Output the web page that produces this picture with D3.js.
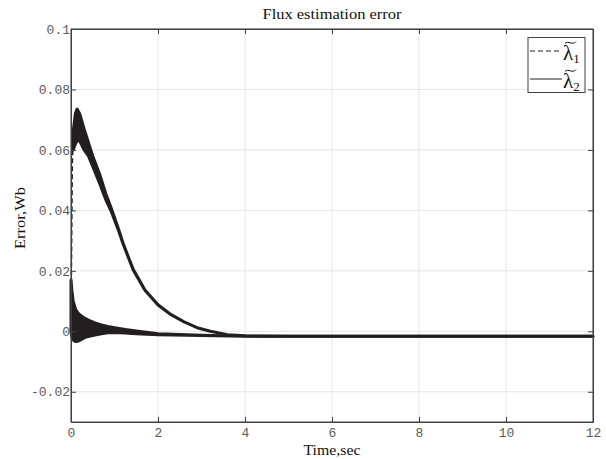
<!DOCTYPE html>
<html>
<head>
<meta charset="utf-8">
<script src="https://cdn.jsdelivr.net/npm/d3@7"></script>
<style>
  html, body { margin: 0; padding: 0; background: #ffffff; }
  svg { display: block; }
</style>
</head>
<body>
<svg id="chart" width="606" height="459"></svg>
<script>
// ---------- data ----------
const chartTitle = "Flux estimation error";
const xLabel = "Time,sec";
const yLabel = "Error,Wb";
const xTicks = [0, 2, 4, 6, 8, 10, 12];
const xTickLabels = ["0", "2", "4", "6", "8", "10", "12"];
const yTicks = [-0.02, 0, 0.02, 0.04, 0.06, 0.08, 0.1];
const yTickLabels = ["-0.02", "0", "0.02", "0.04", "0.06", "0.08", "0.1"];
const seriesNames = ["1", "2"];

// lambda~1 : initial (dashed) rise
const lambda1RiseTime  = [0, 0.01, 0.03, 0.05];
const lambda1RiseValue = [0, 0.02, 0.055, 0.064];
// lambda~1 : oscillating band (upper / lower envelope)
const lambda1Time  = [0.05, 0.1, 0.14, 0.2, 0.3, 0.4, 0.5, 0.67, 0.8, 0.93, 1.1, 1.2, 1.43, 1.7, 2.0, 2.3, 2.6, 2.9, 3.2, 3.6, 4.0, 5.0, 6.0, 8.0, 10.0, 12.0];
const lambda1Upper = [0.066, 0.072, 0.0735, 0.072, 0.067, 0.0625, 0.058, 0.0515, 0.0455, 0.0405, 0.0335, 0.029, 0.0205, 0.0137, 0.0088, 0.0055, 0.0031, 0.0012, 0.0, -0.0011, -0.0015, -0.0016, -0.0016, -0.0016, -0.0016, -0.0016];
const lambda1Lower = [0.060, 0.062, 0.063, 0.063, 0.060, 0.058, 0.0545, 0.0485, 0.0435, 0.0395, 0.0330, 0.0288, 0.0203, 0.0136, 0.0087, 0.0055, 0.0031, 0.0012, 0.0, -0.0011, -0.0015, -0.0016, -0.0016, -0.0016, -0.0016, -0.0016];

// lambda~2 : oscillating band (upper / lower envelope)
const lambda2Time  = [0, 0.02, 0.05, 0.1, 0.15, 0.2, 0.3, 0.4, 0.55, 0.7, 0.85, 1.0, 1.25, 1.5, 2.0, 3.0, 4.0, 6.0, 8.0, 10.0, 12.0];
const lambda2Upper = [0.017, 0.0135, 0.010, 0.0075, 0.0062, 0.0055, 0.0045, 0.0037, 0.0028, 0.0021, 0.0016, 0.0012, 0.0006, 0.0001, -0.0008, -0.0013, -0.0016, -0.0016, -0.0016, -0.0016, -0.0016];
const lambda2Lower = [0.0, -0.002, -0.0028, -0.0034, -0.0033, -0.0030, -0.0022, -0.0017, -0.0012, -0.0008, -0.0005, -0.0004, -0.0006, -0.0008, -0.0011, -0.0014, -0.0016, -0.0016, -0.0016, -0.0016, -0.0016];

// ---------- layout ----------
const svg = d3.select("#chart");
const W = 606, H = 459;
const m = { left: 71, top: 29, right: 606 - 593, bottom: 459 - 422 };
const pw = W - m.left - m.right, ph = H - m.top - m.bottom;

const x = d3.scaleLinear().domain([0, 12]).range([m.left, m.left + pw]);
const y = d3.scaleLinear().domain([-0.03, 0.1]).range([m.top + ph, m.top]);

const axisColor = "#404040";
const gridColor = "#e6e6e6";
const lineColor = "#231f20";
const tickFont = "'Liberation Mono', 'DejaVu Sans Mono', monospace";
const serifFont = "'Liberation Serif', 'DejaVu Serif', serif";

svg.append("rect").attr("width", W).attr("height", H).attr("fill", "#fff");

// grid
const grid = svg.append("g");
grid.selectAll(".gx").data(xTicks).join("line")
  .attr("x1", d => x(d)).attr("x2", d => x(d))
  .attr("y1", m.top).attr("y2", m.top + ph)
  .attr("stroke", gridColor).attr("stroke-width", 1);
grid.selectAll(".gy").data(yTicks).join("line")
  .attr("x1", m.left).attr("x2", m.left + pw)
  .attr("y1", d => y(d)).attr("y2", d => y(d))
  .attr("stroke", gridColor).attr("stroke-width", 1);

// series
const plot = svg.append("g");
const band = (t, up, lo) => t.map((tt, i) => ({ t: tt, u: up[i], l: lo[i] }));
const area = d3.area().x(d => x(d.t)).y0(d => y(d.l)).y1(d => y(d.u));

const b2 = band(lambda2Time, lambda2Upper, lambda2Lower);
plot.append("path").datum(b2).attr("d", area)
  .attr("fill", lineColor).attr("stroke", lineColor)
  .attr("stroke-width", 3).attr("stroke-linejoin", "round");

const rise = lambda1RiseTime.map((t, i) => ({ t, v: lambda1RiseValue[i] }));
plot.append("path").datum(rise)
  .attr("d", d3.line().x(d => x(d.t)).y(d => y(d.v)))
  .attr("fill", "none").attr("stroke", lineColor)
  .attr("stroke-width", 1.5).attr("stroke-dasharray", "5,3");

const b1 = band(lambda1Time, lambda1Upper, lambda1Lower);
plot.append("path").datum(b1).attr("d", area)
  .attr("fill", lineColor).attr("stroke", lineColor)
  .attr("stroke-width", 3).attr("stroke-linejoin", "round");

// axes (box with inward ticks)
const ax = svg.append("g");
ax.append("rect").attr("x", m.left).attr("y", m.top).attr("width", pw).attr("height", ph)
  .attr("fill", "none").attr("stroke", axisColor).attr("stroke-width", 1);

const bottomAxis = d3.axisBottom(x).tickValues(xTicks).tickSizeInner(-5).tickSizeOuter(0)
  .tickFormat((d, i) => xTickLabels[i]).tickPadding(6);
const gB = ax.append("g").attr("transform", `translate(0,${m.top + ph})`).call(bottomAxis);
const topAxis = d3.axisTop(x).tickValues(xTicks).tickSizeInner(-5).tickSizeOuter(0).tickFormat("");
const gT = ax.append("g").attr("transform", `translate(0,${m.top})`).call(topAxis);
const leftAxis = d3.axisLeft(y).tickValues(yTicks).tickSizeInner(-5).tickSizeOuter(0)
  .tickFormat((d, i) => yTickLabels[i]).tickPadding(1);
const gL = ax.append("g").attr("transform", `translate(${m.left},0)`).call(leftAxis);
const rightAxis = d3.axisRight(y).tickValues(yTicks).tickSizeInner(-5).tickSizeOuter(0).tickFormat("");
const gR = ax.append("g").attr("transform", `translate(${m.left + pw},0)`).call(rightAxis);

[gB, gT, gL, gR].forEach(g => {
  g.select(".domain").attr("stroke", axisColor);
  g.selectAll(".tick line").attr("stroke", axisColor);
  g.selectAll(".tick text").attr("fill", "#5a5a5a")
    .style("font-family", tickFont).style("font-size", "13px");
});

// title and labels
svg.append("text").attr("x", m.left + pw / 2).attr("y", 19)
  .attr("text-anchor", "middle").attr("fill", "#111")
  .attr("textLength", 139).attr("lengthAdjust", "spacingAndGlyphs")
  .style("font-family", serifFont).style("font-size", "15px")
  .text(chartTitle);
svg.append("text").attr("x", m.left + pw / 2).attr("y", 455)
  .attr("text-anchor", "middle").attr("fill", "#111")
  .attr("textLength", 57).attr("lengthAdjust", "spacingAndGlyphs")
  .style("font-family", serifFont).style("font-size", "14px")
  .text(xLabel);
svg.append("text").attr("transform", `translate(25,218) rotate(-90)`)
  .attr("text-anchor", "middle").attr("fill", "#111")
  .attr("textLength", 62).attr("lengthAdjust", "spacingAndGlyphs")
  .style("font-family", serifFont).style("font-size", "14px")
  .text(yLabel);

// legend
const lg = svg.append("g");
lg.append("rect").attr("x", 528).attr("y", 37.5).attr("width", 57).attr("height", 55)
  .attr("fill", "#fff").attr("stroke", axisColor).attr("stroke-width", 1);
const rows = [{ dash: "5,3", yy: 51 }, { dash: null, yy: 79 }];
rows.forEach((r, i) => {
  lg.append("line").attr("x1", 530).attr("x2", 562).attr("y1", r.yy).attr("y2", r.yy)
    .attr("stroke", lineColor).attr("stroke-width", 1)
    .attr("stroke-dasharray", r.dash);
  const t = lg.append("text").attr("x", 563).attr("y", r.yy + 9)
    .attr("fill", "#111").style("font-family", serifFont).style("font-size", "21px");
  t.append("tspan").text("λ");
  t.append("tspan").attr("dy", 3).style("font-size", "13px").text(seriesNames[i]);
  // tilde accent over lambda
  const tx = 565, ty = r.yy - 9;
  lg.append("path")
    .attr("d", `M${tx},${ty + 1.5} C${tx + 3},${ty - 2} ${tx + 8},${ty + 4} ${tx + 11},${ty - 0.5}`)
    .attr("fill", "none").attr("stroke", "#111").attr("stroke-width", 1);
});
</script>
</body>
</html>
